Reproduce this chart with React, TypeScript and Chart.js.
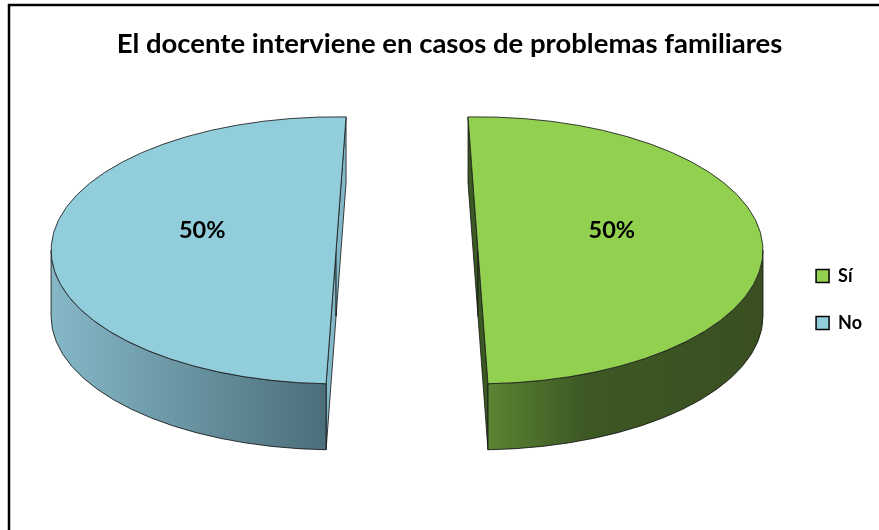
import React, { useEffect, useRef } from "react";
import { Chart, registerables } from "chart.js";

Chart.register(...registerables);

// ---- data ----
const categories = ["Sí", "No"];
const values = [50, 50];
const titleText = "El docente interviene en casos de problemas familiares";

// ---- styles ----
const topColors = ["#92d050", "#92cddc"];
const wallStops: [number, string][][] = [
  [[0, "#5b8434"], [0.35, "#3d5824"], [1, "#394f21"]],
  [[0, "#86b8c8"], [1, "#4b6f7a"]],
];
const sideColors = ["#3b5a22", "#82b9c9"];
const FONT = "Lato, 'Open Sans', sans-serif";

// projection (screen px)
const RX = 285;
const RY = 133.5;
const DEPTH = 66;
const EXPLODE = 71;
const TILT = 0.035;
const BASE_R = 100;
const LABEL_R = 0.47;
const LABEL_DY = -0.15;
const LIB_OFFSET = (4 * EXPLODE * BASE_R) / (RX - EXPLODE);

type Geo = { ex: number; ey: number; rx: number; ry: number; ds: number; de: number; mid: number };

function norm(a: number) {
  const t = Math.PI * 2;
  return ((a % t) + t) % t;
}

const pie3d = {
  id: "pie3d",
  beforeDraw(chart: any) {
    const ctx = chart.ctx;
    ctx.save();
    ctx.strokeStyle = "#000";
    ctx.lineWidth = 2.5;
    ctx.strokeRect(9, 5, chart.width + 20, chart.height + 20);
    ctx.restore();
  },
  beforeDatasetsDraw(chart: any) {
    const ctx = chart.ctx;
    const meta = chart.getDatasetMeta(0);
    const arcs = meta.data;
    if (!arcs.length) return;
    const saved = arcs.map((a: any) => [a.startAngle, a.endAngle]);
    chart.$p3saved = saved;
    const cx = arcs[0].x;
    const cy = arcs[0].y;
    let sx = 1;
    let sy = 1;
    const geos: Geo[] = [];
    arcs.forEach((arc: any, i: number) => {
      const o = (arc.options.offset || 0) / 4;
      const fix = 1 - Math.sin(Math.min(Math.PI, arc.circumference || 0));
      const ro = o * fix;
      const reff = arc.outerRadius + ro;
      const ao = ro / (2 * Math.PI * reff);
      const mid0 = (arc.startAngle + arc.endAngle) / 2;
      const rot = Math.cos(mid0) > 0 ? -TILT : TILT;
      const ds = arc.startAngle + rot;
      const de = arc.endAngle + rot;
      arc.startAngle = ds - ao;
      arc.endAngle = de + ao;
      const half = (arc.startAngle + arc.endAngle) / 2;
      if (i === 0) {
        sx = RX / reff;
        sy = RY / reff;
      }
      geos.push({
        ex: cx + sx * Math.cos(half) * o,
        ey: cy + sy * Math.sin(half) * o,
        rx: sx * reff,
        ry: sy * reff,
        ds,
        de,
        mid: (ds + de) / 2,
      });
    });
    chart.$p3geo = geos;

    geos.forEach((g, i) => {
      // cut faces
      [g.ds, g.de].forEach((ang: number) => {
        const px = g.ex + g.rx * Math.cos(ang);
        const py = g.ey + g.ry * Math.sin(ang);
        ctx.save();
        ctx.beginPath();
        ctx.moveTo(g.ex, g.ey);
        ctx.lineTo(px, py);
        ctx.lineTo(px, py + DEPTH);
        ctx.lineTo(g.ex, g.ey + DEPTH);
        ctx.closePath();
        ctx.fillStyle = sideColors[i % sideColors.length];
        ctx.fill();
        ctx.strokeStyle = "rgba(20,20,20,0.8)";
        ctx.lineWidth = 1;
        ctx.stroke();
        ctx.restore();
      });
      // outer wall (front half only)
      let s = g.ds;
      let e = g.de;
      const shift = norm(s) - s;
      s += shift;
      e += shift;
      if (s >= Math.PI) {
        s -= 2 * Math.PI;
        e -= 2 * Math.PI;
      }
      const a = Math.max(s, 0);
      const b = Math.min(e, Math.PI);
      if (b > a) {
        ctx.save();
        ctx.beginPath();
        ctx.ellipse(g.ex, g.ey, g.rx, g.ry, 0, a, b);
        ctx.ellipse(g.ex, g.ey + DEPTH, g.rx, g.ry, 0, b, a, true);
        ctx.closePath();
        const x0 = g.ex + g.rx * Math.cos(b);
        const x1 = g.ex + g.rx * Math.cos(a);
        const grad = ctx.createLinearGradient(x0, 0, x1, 0);
        wallStops[i % wallStops.length].forEach(([p, c]) => grad.addColorStop(p, c));
        ctx.fillStyle = grad;
        ctx.fill();
        ctx.strokeStyle = "rgba(20,20,20,0.85)";
        ctx.lineWidth = 1;
        ctx.stroke();
        ctx.restore();
      }
    });
    // project the library's slices (top faces)
    ctx.save();
    ctx.translate(cx, cy);
    ctx.scale(sx, sy);
    ctx.translate(-cx, -cy);
  },
  afterDatasetsDraw(chart: any) {
    const ctx = chart.ctx;
    const meta = chart.getDatasetMeta(0);
    const arcs = meta.data;
    if (!arcs.length || !chart.$p3geo) return;
    ctx.restore();
    const saved = chart.$p3saved as number[][];
    arcs.forEach((arc: any, i: number) => {
      arc.startAngle = saved[i][0];
      arc.endAngle = saved[i][1];
    });
    const geos = chart.$p3geo as Geo[];
    const data = chart.data.datasets[0].data as number[];
    const total = data.reduce((p, v) => p + v, 0);
    geos.forEach((g, i) => {
      ctx.save();
      ctx.beginPath();
      ctx.moveTo(g.ex, g.ey);
      ctx.ellipse(g.ex, g.ey, g.rx, g.ry, 0, g.ds, g.de);
      ctx.closePath();
      ctx.strokeStyle = "rgba(30,30,30,0.85)";
      ctx.lineWidth = 1;
      ctx.stroke();
      ctx.restore();
      const pct = Math.round((data[i] / total) * 100) + "%";
      const lx = g.ex + Math.cos(g.mid) * LABEL_R * g.rx;
      const ly = g.ey + LABEL_DY * g.ry;
      ctx.save();
      ctx.fillStyle = "#000";
      ctx.font = `bold 23.5px ${FONT}`;
      ctx.textAlign = "center";
      ctx.textBaseline = "middle";
      ctx.fillText(pct, lx, ly);
      ctx.restore();
    });
  },
};

export default function App() {
  const ref = useRef<HTMLCanvasElement | null>(null);
  useEffect(() => {
    if (!ref.current) return;
    const chart = new Chart(ref.current, {
      type: "pie",
      data: {
        labels: categories,
        datasets: [
          {
            data: values,
            backgroundColor: topColors,
            borderWidth: 0,
            offset: LIB_OFFSET,
            clip: false as any,
          } as any,
        ],
      },
      options: {
        responsive: false,
        animation: false,
        radius: BASE_R,
        rotation: 0,
        events: [],
        layout: { padding: { left: 27, right: 7, top: 0, bottom: 98 } },
        plugins: {
          tooltip: { enabled: false },
          title: {
            display: true,
            text: titleText,
            color: "#000",
            font: { family: FONT, size: 27.5, weight: "bold", lineHeight: 1.2 },
            padding: { top: 28, bottom: 10 },
          },
          legend: {
            position: "right",
            title: { display: true, text: "", font: { size: 10, lineHeight: 1.2 }, padding: { top: 77.5, bottom: 77.5 } },
            labels: {
              boxWidth: 13,
              boxHeight: 13,
              padding: 29,
              color: "#000",
              font: { family: FONT, size: 18, weight: "bold" },
              generateLabels: (c: any) =>
                (c.data.labels as string[]).map((t: string, i: number) => ({
                  text: t,
                  fillStyle: topColors[i],
                  strokeStyle: "#000",
                  lineWidth: 1.5,
                  hidden: false,
                  index: i,
                  fontColor: "#000",
                })),
            },
          },
        },
      } as any,
      plugins: [pie3d],
    });
    return () => chart.destroy();
  }, []);
  return (
    <div style={{ position: "absolute", left: 0, top: 0, width: 879, height: 530, background: "#fff" }}>
      <canvas ref={ref} width={879} height={530} style={{ display: "block" }} />
    </div>
  );
}
